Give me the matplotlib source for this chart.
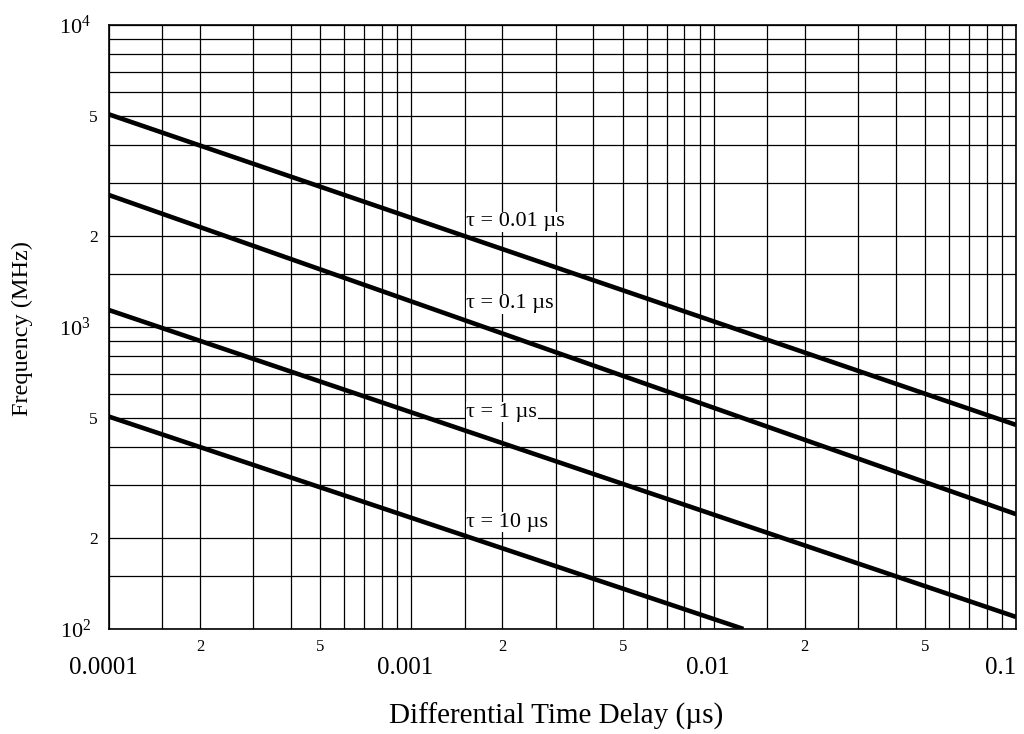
import matplotlib
matplotlib.use('Agg')
import matplotlib.pyplot as plt
import matplotlib.transforms as mtransforms
from matplotlib.ticker import FixedLocator, FixedFormatter

plt.rcParams['font.family'] = ['Liberation Serif', 'DejaVu Serif']
plt.rcParams['mathtext.fontset'] = 'custom'
plt.rcParams['mathtext.rm'] = 'Liberation Serif'

# 각 곡선의 양 끝점
tau_labels = ['τ = 0.01 µs', 'τ = 0.1 µs', 'τ = 1 µs', 'τ = 10 µs']
delay_start = [0.0001, 0.0001, 0.0001, 0.0001]
delay_end = [0.1, 0.1, 0.1, 0.01254]
freq_start = [5060, 2735, 1138, 505]
freq_end = [474, 240, 109.6, 100]

# 라벨 위치
label_x = [0.00152, 0.00152, 0.00152, 0.00152]
label_y = [2228, 1192, 523, 226]

x_major = [0.0001, 0.001, 0.01, 0.1]
x_major_labels = ['0.0001', '0.001', '0.01', '0.1']
y_major = [100, 1000, 10000]
y_major_labels = [r'$\mathregular{10^{2}}$', r'$\mathregular{10^{3}}$', r'$\mathregular{10^{4}}$']
subs = [1.5, 2, 3, 4, 5, 6, 7, 8, 9]
sub_labels = {2: '2', 5: '5'}

fig = plt.figure(figsize=(10.24, 7.34), dpi=100)
ax = fig.add_axes([0.1064, 0.1431, 0.8858, 0.8228])
ax.set_xscale('log')
ax.set_yscale('log')
ax.set_xlim(0.0001, 0.1)
ax.set_ylim(100, 10000)

for i in range(len(tau_labels)):
    ax.plot([delay_start[i], delay_end[i]], [freq_start[i], freq_end[i]],
            color='black', lw=3.3, solid_capstyle='butt', zorder=3)
    ax.text(label_x[i], label_y[i], tau_labels[i], fontsize=16, ha='left', va='center',
            bbox=dict(facecolor='white', edgecolor='none', pad=0.5), zorder=4)

# 보조 눈금
x_minor, x_minor_lab = [], []
for d in x_major[:-1]:
    for s in subs:
        x_minor.append(d * s)
        x_minor_lab.append(sub_labels.get(s, ''))
y_minor, y_minor_lab = [], []
for d in y_major[:-1]:
    for s in subs:
        y_minor.append(d * s)
        y_minor_lab.append(sub_labels.get(s, ''))

ax.xaxis.set_major_locator(FixedLocator(x_major))
ax.xaxis.set_major_formatter(FixedFormatter(x_major_labels))
ax.xaxis.set_minor_locator(FixedLocator(x_minor))
ax.xaxis.set_minor_formatter(FixedFormatter(x_minor_lab))
ax.yaxis.set_major_locator(FixedLocator(y_major))
ax.yaxis.set_major_formatter(FixedFormatter(y_major_labels))
ax.yaxis.set_minor_locator(FixedLocator(y_minor))
ax.yaxis.set_minor_formatter(FixedFormatter(y_minor_lab))

ax.tick_params(axis='x', which='major', length=0, pad=20, labelsize=18)
ax.tick_params(axis='x', which='minor', length=0, pad=7, labelsize=12)
ax.tick_params(axis='y', which='major', length=0, pad=13, labelsize=16)
ax.tick_params(axis='y', which='minor', length=0, pad=8, labelsize=12.5)

# x 주 눈금 라벨 약간 왼쪽으로, 0.1은 오른쪽 정렬
shift = mtransforms.ScaledTranslation(-6 / 100, 0, fig.dpi_scale_trans)
xlabs = ax.get_xticklabels()
for lab in xlabs[:-1]:
    lab.set_transform(lab.get_transform() + shift)
xlabs[-1].set_horizontalalignment('right')

ax.grid(True, which='both', color='black', linewidth=0.9)
for sp in ax.spines.values():
    sp.set_linewidth(1.2)

ax.set_xlabel('Differential Time Delay (µs)', fontsize=21)
ax.xaxis.set_label_coords(0.493, -0.122)
ax.set_ylabel('Frequency (MHz)', fontsize=17.5)
ax.yaxis.set_label_coords(-0.084, 0.498)

plt.savefig('out.png', dpi=100)
